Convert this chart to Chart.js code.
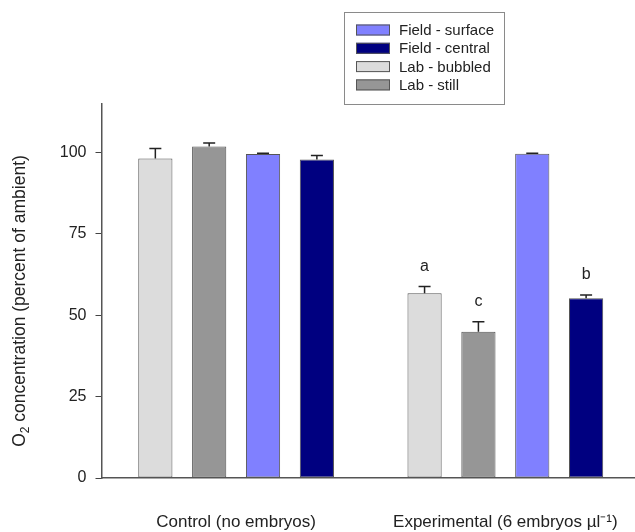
<!DOCTYPE html>
<html>
<head>
<meta charset="utf-8">
<script src="https://cdn.jsdelivr.net/npm/chart.js@4.4.0/dist/chart.umd.min.js"></script>
<style>
  html, body { margin: 0; padding: 0; background: #fff; overflow: hidden; }
  #wrap { width: 644px; height: 532px; }
</style>
</head>
<body>
<div id="wrap"><canvas id="o2Chart" width="644" height="532"></canvas></div>
<script>
// data
const categories = ["Control (no embryos)", "Experimental (6 embryos \u00b5l\u207b\u00b9)"];
const yTicks = [0, 25, 50, 75, 100];

const labBubbled = [98.1, 56.7];
const labBubbledErr = [3.1, 2.1];
const labBubbledSig = ["", "a"];

const labStill = [101.8, 44.9];
const labStillErr = [1.1, 3.1];
const labStillSig = ["", "c"];

const fieldSurface = [99.5, 99.6];
const fieldSurfaceErr = [0.2, 0.1];
const fieldSurfaceSig = ["", ""];

const fieldCentral = [97.8, 55.2];
const fieldCentralErr = [1.2, 1.0];
const fieldCentralSig = ["", "b"];

const legendOrder = ["Field - surface", "Field - central", "Lab - bubbled", "Lab - still"];

const FONT = '"Liberation Sans", Arial, sans-serif';
const INK = "#222222";

// upper error bars + significance letters
const errorBarPlugin = {
  id: "errorBars",
  afterDatasetsDraw(chart) {
    const ctx = chart.ctx;
    const y = chart.scales.y;
    ctx.save();
    chart.data.datasets.forEach((ds, i) => {
      const meta = chart.getDatasetMeta(i);
      meta.data.forEach((bar, j) => {
        const top = y.getPixelForValue(ds.data[j] + ds.err[j]);
        ctx.strokeStyle = INK;
        ctx.lineWidth = 1.5;
        ctx.beginPath();
        ctx.moveTo(bar.x, bar.y);
        ctx.lineTo(bar.x, top);
        ctx.moveTo(bar.x - 6, top);
        ctx.lineTo(bar.x + 6, top);
        ctx.stroke();
        if (ds.sig[j]) {
          ctx.fillStyle = INK;
          ctx.font = "16px " + FONT;
          ctx.textAlign = "center";
          ctx.textBaseline = "middle";
          ctx.fillText(ds.sig[j], bar.x, top - 20);
        }
      });
    });
    ctx.restore();
  }
};

// boxed legend above the plot
const boxLegendPlugin = {
  id: "boxLegend",
  afterDraw(chart) {
    const ctx = chart.ctx;
    ctx.save();
    ctx.strokeStyle = "#8a8a8a";
    ctx.lineWidth = 1;
    ctx.strokeRect(344.5, 12.5, 160, 92);
    ctx.font = "15px " + FONT;
    ctx.textBaseline = "middle";
    ctx.textAlign = "left";
    legendOrder.forEach((name, k) => {
      const ds = chart.data.datasets.find(d => d.label === name);
      const cy = 30 + k * 18.3;
      ctx.fillStyle = ds.backgroundColor;
      ctx.fillRect(356, cy - 5.5, 34, 11);
      ctx.strokeStyle = "#555";
      ctx.strokeRect(356.5, cy - 5, 33, 10);
      ctx.fillStyle = INK;
      ctx.fillText(name, 399, cy + 1);
    });
    ctx.restore();
  }
};

// rotated y title with subscript 2
const yTitlePlugin = {
  id: "yTitle",
  afterDraw(chart) {
    const ctx = chart.ctx;
    const parts = [
      { t: "O", size: 17.5, dy: 0 },
      { t: "2", size: 12, dy: 4 },
      { t: " concentration (percent of ambient)", size: 17.5, dy: 0 }
    ];
    ctx.save();
    let total = 0;
    parts.forEach(p => {
      ctx.font = p.size + "px " + FONT;
      p.w = ctx.measureText(p.t).width;
      total += p.w;
    });
    ctx.translate(25, 301);
    ctx.rotate(-Math.PI / 2);
    ctx.fillStyle = INK;
    ctx.textBaseline = "alphabetic";
    ctx.textAlign = "left";
    let x = -total / 2;
    parts.forEach(p => {
      ctx.font = p.size + "px " + FONT;
      ctx.fillText(p.t, x, p.dy);
      x += p.w;
    });
    ctx.restore();
  }
};

const barStyle = { borderColor: "#555555", borderWidth: 1, borderSkipped: false, barPercentage: 0.635, categoryPercentage: 0.8 };

new Chart(document.getElementById("o2Chart").getContext("2d"), {
  type: "bar",
  data: {
    labels: categories,
    datasets: [
      Object.assign({ label: "Lab - bubbled", data: labBubbled, err: labBubbledErr, sig: labBubbledSig, backgroundColor: "#dcdcdc" }, barStyle),
      Object.assign({ label: "Lab - still", data: labStill, err: labStillErr, sig: labStillSig, backgroundColor: "#969696" }, barStyle),
      Object.assign({ label: "Field - surface", data: fieldSurface, err: fieldSurfaceErr, sig: fieldSurfaceSig, backgroundColor: "#8080ff" }, barStyle),
      Object.assign({ label: "Field - central", data: fieldCentral, err: fieldCentralErr, sig: fieldCentralSig, backgroundColor: "#000080", borderColor: "#1a1a4a" }, barStyle)
    ]
  },
  options: {
    responsive: false,
    animation: false,
    layout: { padding: { top: 103.5, right: 1.5, left: 0, bottom: 0 } },
    plugins: {
      legend: { display: false },
      tooltip: { enabled: false }
    },
    scales: {
      x: {
        grid: { display: false },
        border: { display: true, color: "#555", width: 1.5 },
        ticks: { color: INK, font: { family: FONT, size: 17 }, padding: 26, maxRotation: 0 },
        afterFit(axis) { axis.height = 54; }
      },
      y: {
        min: 0,
        max: 115,
        grid: { display: true, drawOnChartArea: false, drawTicks: true, tickLength: 6, color: "#444", lineWidth: 1 },
        border: { display: true, color: "#555", width: 1.5 },
        ticks: { color: INK, font: { family: FONT, size: 16 }, padding: 9 },
        afterBuildTicks(axis) { axis.ticks = yTicks.map(v => ({ value: v })); },
        afterFit(axis) { axis.width = 101.5; }
      }
    }
  },
  plugins: [errorBarPlugin, boxLegendPlugin, yTitlePlugin]
});
</script>
</body>
</html>
